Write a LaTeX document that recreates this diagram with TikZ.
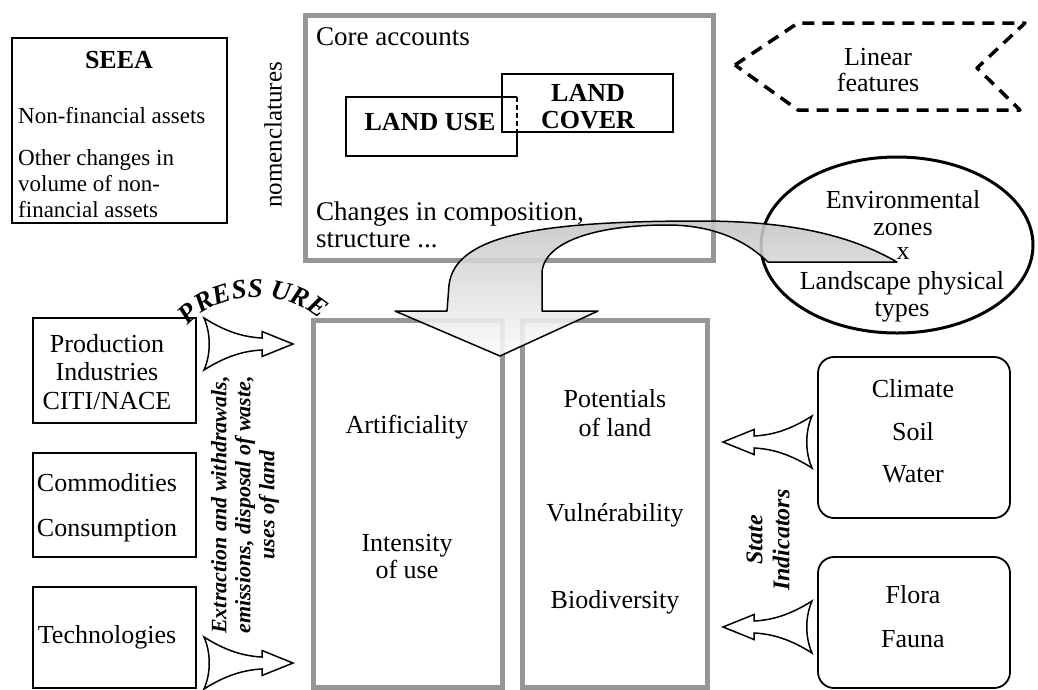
\documentclass[tikz,border=0pt]{standalone}
\usepackage{fontspec}
\setmainfont{Liberation Serif}
\usetikzlibrary{decorations.text,shapes.geometric}
\definecolor{boxgray}{RGB}{150,150,150}
\begin{document}
\begin{tikzpicture}[x=1pt,y=-1pt,
  thinbox/.style={draw, line width=1.8pt, inner sep=0pt},
  graybox/.style={draw=boxgray, line width=5pt, inner sep=0pt},
  txt/.style={inner sep=0pt, align=center, font=\fontsize{26}{29}\selectfont},
  ltxt/.style={inner sep=0pt, align=left, font=\fontsize{23}{26}\selectfont},
  btxt/.style={inner sep=0pt, align=center, font=\fontsize{26}{27}\selectfont\bfseries},
  bitxt/.style={inner sep=0pt, align=center, font=\fontsize{22}{24}\selectfont\bfseries\itshape},
  flare/.pic={
    \draw[line width=1.5pt, fill=white] (0,0) -- (-31,-12.5) -- (-31,-6)
      .. controls (-52,-7) and (-70,-14) .. (-89,-26)
      .. controls (-82,-10) and (-82,10) .. (-89,26)
      .. controls (-70,14) and (-52,7) .. (-31,6) -- (-31,12.5) -- cycle;
  }]
\useasboundingbox (0,0) rectangle (1038,689);

% SEEA box
\node[thinbox, minimum width=215pt, minimum height=185pt] (seea) at (119.5,130.5) {};
\node[btxt] (seeat) at (119,60) {SEEA};
\node[ltxt, anchor=west] (seea1) at (18,116) {Non-financial assets};
\node[ltxt, anchor=west] (seea2) at (18,184) {Other changes in\\volume of non-\\financial assets};
\node[txt, rotate=90, font=\fontsize{25}{27}\selectfont] (nomen) at (273,135) {nomenclatures};

% Core accounts box
\node[graybox, minimum width=408pt, minimum height=245pt] (core) at (509,137.5) {};
\node[inner sep=0pt, anchor=base west, font=\fontsize{27}{27}\selectfont] (core1) at (316,45) {Core accounts};
\node[inner sep=0pt, anchor=base west, font=\fontsize{27}{27}\selectfont] (core2) at (316,220) {Changes in composition,};
\node[inner sep=0pt, anchor=base west, font=\fontsize{27}{27}\selectfont] (core3) at (316,247) {structure ...};

% Land use / land cover
\node[minimum width=171pt, minimum height=59pt, inner sep=0pt] (lu) at (431.5,126.5) {};
\node[thinbox, minimum width=171pt, minimum height=58pt] (lc) at (587.5,103) {};
\draw[line width=1.8pt] (lu.north east |- lc.south) -- (lu.south east) -- (lu.south west) -- (lu.north west) -- (lu.north east);
\draw[line width=1.5pt, dash pattern=on 5pt off 3pt] (lu.north east) -- (lu.north east |- lc.south);
\node[btxt] (lut) at (430,122) {LAND USE};
\node[btxt] (lct) at (588,107) {LAND\\COVER};

% Linear features
\node[txt, font=\fontsize{26}{26}\selectfont] (lin) at (878,70) {Linear\\features};
\draw[line width=3.5pt, dash pattern=on 12pt off 8pt, line join=round]
  (735,65) -- (798,23) -- (1025,23) -- (977,68) -- (1020,110) -- (798,110) -- cycle;

% Environmental zones ellipse
\node[draw, ellipse, line width=3pt, minimum width=272pt, minimum height=176pt, inner sep=0pt] (env) at (897,245) {};
\node[txt, font=\fontsize{26}{27}\selectfont] (envt) at (903,213) {Environmental\\zones};
\node[txt] (envx) at (903,254) {x};
\node[txt, font=\fontsize{26}{27}\selectfont] (envl) at (902,297) {Landscape physical\\types};

% Lower gray boxes
\node[graybox, minimum width=189pt, minimum height=367pt] (art) at (407.5,503.5) {};
\node[graybox, minimum width=185pt, minimum height=367pt] (pot) at (614.5,503.5) {};
\node[txt] (art1) at (407,427) {Artificiality};
\node[txt, font=\fontsize{26}{27}\selectfont] (art2) at (407,557) {Intensity\\of use};
\node[txt] (pot1) at (615,413) {Potentials\\of land};
\node[txt] (pot2) at (615,515) {Vulnérability};
\node[txt] (pot3) at (615,602) {Biodiversity};

% Right rounded boxes
\node[thinbox, rounded corners=16pt, minimum width=192pt, minimum height=161pt] (cli) at (914,437.5) {};
\node[txt, font=\fontsize{26}{42.5}\selectfont] (clit) at (913,431.5) {Climate\\Soil\\Water};
\node[thinbox, rounded corners=16pt, minimum width=192pt, minimum height=131pt] (flo) at (914,622.5) {};
\node[txt, font=\fontsize{26}{44}\selectfont] (flot) at (913,617) {Flora\\Fauna};

% Left boxes
\node[thinbox, minimum width=163pt, minimum height=105pt] (prod) at (114.5,370.5) {};
\node[txt, font=\fontsize{26}{28.5}\selectfont] (prodt) at (107,372) {Production\\Industries\\CITI/NACE};
\node[thinbox, minimum width=163pt, minimum height=104pt] (com) at (114.5,505) {};
\node[txt, font=\fontsize{26}{45}\selectfont] (comt) at (107,507.5) {Commodities\\Consumption};
\node[thinbox, minimum width=163pt, minimum height=101pt] (tech) at (114.5,637.5) {};
\node[txt] (techt) at (107,637) {Technologies};

% Pressure arrows and text
\pic at (293,344) {flare};
\pic at (293,663) {flare};
\node[bitxt, rotate=90] (prest) at (245,505) {Extraction and withdrawals,\\emissions, disposal of waste,\\uses of land};
\path[decorate, decoration={text along path, text align=center,
  text={|\fontsize{27}{27}\selectfont\bfseries\itshape|PRESS URE}}]
  (186,328) .. controls (218,288) and (288,288) .. (322,322);

% State indicators
\pic[xscale=-1] at (723,442) {flare};
\pic[xscale=-1] at (723,627) {flare};
\node[bitxt, rotate=90, font=\fontsize{24}{27}\selectfont\bfseries\itshape] (state) at (768,540) {State\\Indicators};

% Curved block arrow
\draw[line width=1.5pt, line join=round, top color=gray!45, bottom color=gray!3, fill opacity=0.88]
  (897,262) .. controls (850,235) and (790,221) .. (700,221)
  .. controls (540,221) and (455,235) .. (449,285) -- (447,311)
  -- (395,311) -- (500,356) -- (598,311) -- (542,311) -- (542,272)
  .. controls (545,240) and (600,225) .. (667,225)
  .. controls (720,225) and (750,245) .. (768,262) -- cycle;
\end{tikzpicture}
\end{document}
